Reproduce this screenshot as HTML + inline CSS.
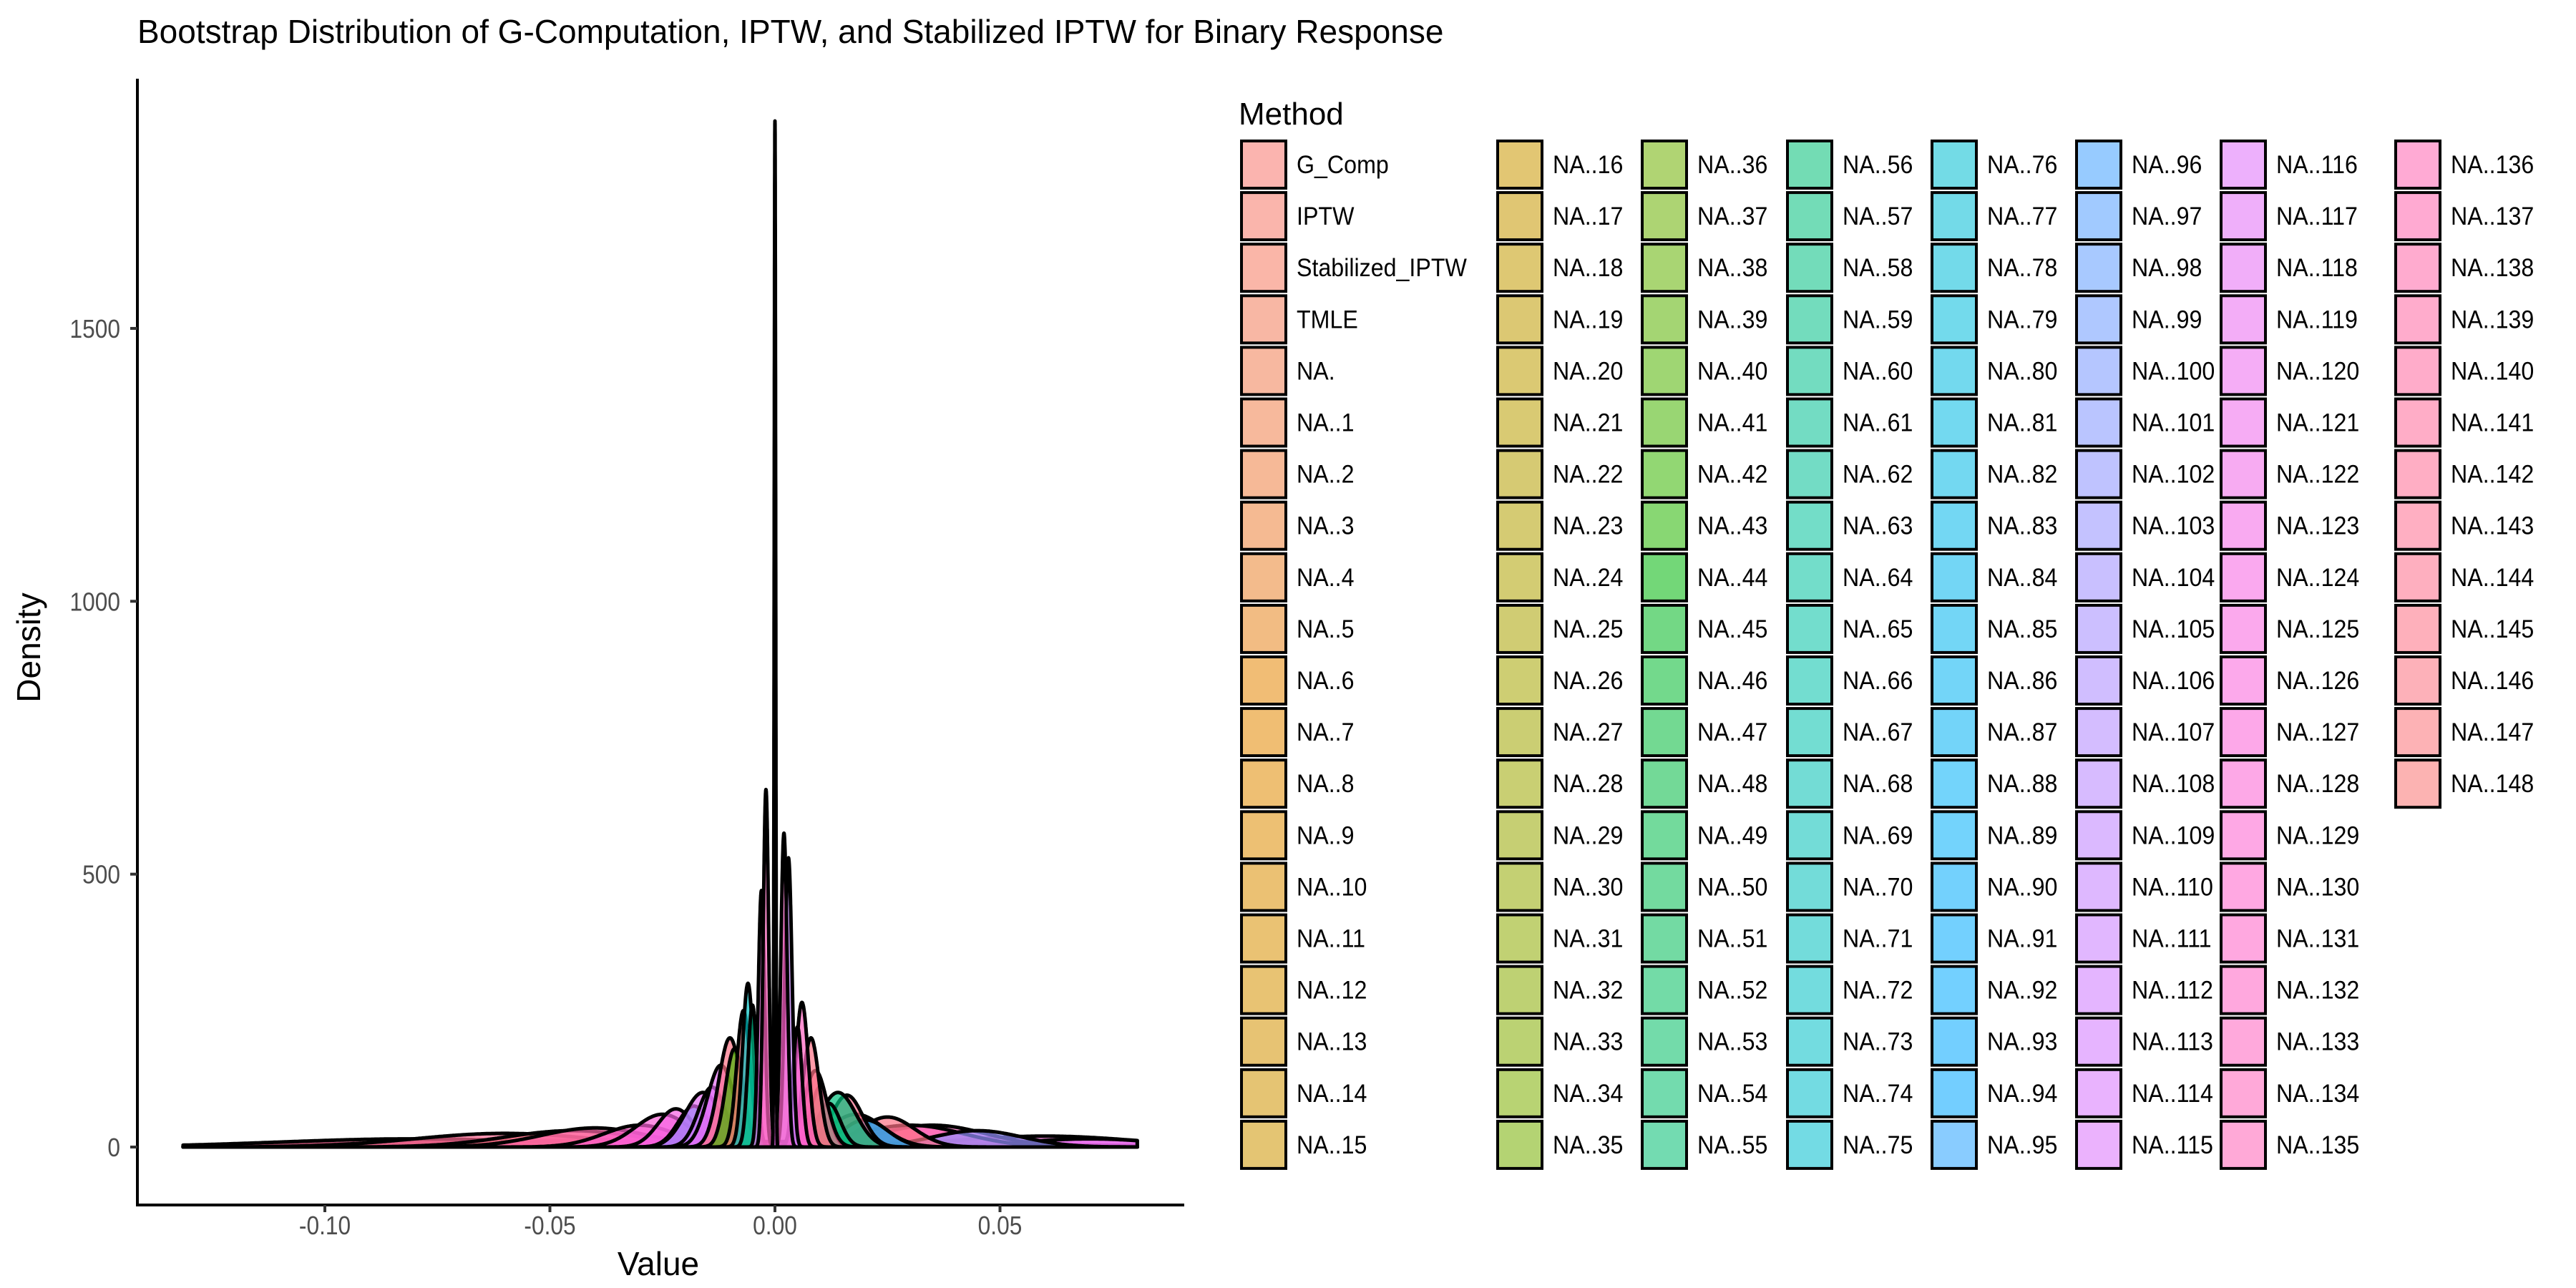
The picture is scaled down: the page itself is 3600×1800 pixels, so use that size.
<!DOCTYPE html>
<html><head><meta charset="utf-8">
<style>
html,body{margin:0;padding:0;background:#fff;}
svg{display:block;font-family:"Liberation Sans",Arial,sans-serif;}
</style></head>
<body>
<svg id="chart" width="3600" height="1800" viewBox="0 0 3600 1800" xmlns="http://www.w3.org/2000/svg">
<text x="192" y="60" font-size="46" fill="#000">Bootstrap Distribution of G-Computation, IPTW, and Stabilized IPTW for Binary Response</text>
<g id="curves"></g>
<line x1="192" y1="110" x2="192" y2="1685" stroke="#000" stroke-width="4"/>
<line x1="190" y1="1684" x2="1655" y2="1684" stroke="#000" stroke-width="4"/>
<g id="yticks"></g>
<g id="xticks"></g>
<text x="920" y="1782" font-size="46" text-anchor="middle">Value</text>
<text transform="translate(56,905) rotate(-90)" font-size="46" text-anchor="middle">Density</text>
<text x="1731" y="174" font-size="44">Method</text>
<g id="legend"></g>
</svg>
<script>
// ---- data ----
const xTicks = [-0.10, -0.05, 0.00, 0.05];
const xTickLabels = ["-0.10", "-0.05", "0.00", "0.05"];
const yTicks = [0, 500, 1000, 1500];
const yTickLabels = ["0", "500", "1000", "1500"];
const curveCenters = [-0.05, 0.0, -0.08, 0.06, 0.07, -0.06, -0.045, 0.035, -0.04, -0.03, 0.03, 0.045, 0.025, -0.025, 0.018, 0.02, -0.022, -0.018, -0.016, 0.016, 0.014, -0.014, -0.012, 0.012, -0.01, 0.01, 0.009, -0.009, 0.008, -0.007, 0.006, -0.006, 0.005, -0.005, 0.003, 0.002, -0.003, -0.002, 0.0];
const curveWidths  = [0.04, 0.05, 0.03, 0.02, 0.015, 0.02, 0.015, 0.012, 0.012, 0.008, 0.012, 0.01, 0.006, 0.006, 0.006, 0.005, 0.004, 0.0035, 0.004, 0.0035, 0.004, 0.003, 0.003, 0.0025, 0.0025, 0.002, 0.0025, 0.002, 0.0018, 0.0015, 0.0014, 0.0012, 0.001, 0.001, 0.0008, 0.0007, 0.0007, 0.0006, 0.00016];
const curvePeaks   = [12, 10, 15, 20, 15, 25, 30, 40, 35, 40, 40, 30, 55, 60, 60, 50, 70, 75, 100, 95, 100, 110, 150, 80, 200, 110, 140, 180, 200, 250, 265, 300, 220, 260, 530, 575, 470, 655, 1880];
const curveHues    = [0.97, 0.99, 0.95, 0.85, 0.80, 0.96, 0.98, 0.90, 0.93, 0.88, 0.92, 0.70, 0.98, 0.86, 0.97, 0.62, 0.84, 0.62, 0.80, 0.97, 0.40, 0.76, 0.80, 0.40, 0.98, 0.36, 0.95, 0.30, 0.98, 0.99, 0.90, 0.50, 0.86, 0.42, 0.75, 0.88, 0.83, 0.90, 0.82];
const xMin = -0.1315, xMax = 0.0805;
const legendLabels = ["G_Comp","IPTW","Stabilized_IPTW","TMLE","NA."];
for (let i = 1; i <= 148; i++) legendLabels.push("NA.." + i);

// ---- scales ----
const NS = "http://www.w3.org/2000/svg";
const xs = v => 1083 + v * 6290;
const ys = d => 1603 - d * 0.7627;

function hcl(h, c, l) {
  const hr = h * Math.PI / 180;
  const U = c * Math.cos(hr), V = c * Math.sin(hr);
  const Y = l > 8 ? Math.pow((l + 16) / 116, 3) : l / 903.3;
  const un = 0.19784, vn = 0.46834;
  const u = U / (13 * l) + un, v = V / (13 * l) + vn;
  const X = Y * 9 * u / (4 * v), Z = Y * (12 - 3 * u - 20 * v) / (4 * v);
  let r = 3.2406 * X - 1.5372 * Y - 0.4986 * Z;
  let g = -0.9689 * X + 1.8758 * Y + 0.0415 * Z;
  let b = 0.0557 * X - 0.2040 * Y + 1.0570 * Z;
  const gm = t => { t = t <= 0.0031308 ? 12.92 * t : 1.055 * Math.pow(t, 1 / 2.4) - 0.055; return Math.round(Math.max(0, Math.min(1, t)) * 255); };
  return [gm(r), gm(g), gm(b)];
}
const n = legendLabels.length;
function colorFor(i) { return hcl(15 + 360 * i / n, 100, 65); }

function el(tag, attrs, parent) {
  const e = document.createElementNS(NS, tag);
  for (const k in attrs) e.setAttribute(k, attrs[k]);
  parent.appendChild(e);
  return e;
}

// ---- curves ----
const cg = document.getElementById("curves");
curveCenters.forEach((c, i) => {
  const w = curveWidths[i], p = curvePeaks[i];
  const pts = [];
  const steps = 900;
  for (let k = 0; k <= steps; k++) {
    const v = xMin + (xMax - xMin) * k / steps;
    const z = (v - c) / w;
    pts.push([xs(v), ys(p * Math.exp(-0.5 * z * z))]);
  }
  const lo = Math.max(xMin, c - 6 * w), hi = Math.min(xMax, c + 6 * w);
  for (let k = 0; k <= 300; k++) {
    const v = lo + (hi - lo) * k / 300;
    const z = (v - c) / w;
    pts.push([xs(v), ys(p * Math.exp(-0.5 * z * z))]);
  }
  pts.sort((a, b) => a[0] - b[0]);
  let d = "M" + xs(xMin).toFixed(1) + "," + ys(0).toFixed(1);
  pts.forEach(q => d += "L" + q[0].toFixed(1) + "," + q[1].toFixed(1));
  d += "L" + xs(xMax).toFixed(1) + "," + ys(0).toFixed(1) + "Z";
  const col = colorFor(Math.floor(curveHues[i] * n) % n);
  const path = el("path", {d: d, fill: "rgb(" + col.join(",") + ")", "fill-opacity": 0.7, stroke: "#000", "stroke-width": 5, "stroke-linejoin": "round"}, cg);
  
  
});

// ---- axes ----
const yg = document.getElementById("yticks");
yTicks.forEach((t, i) => {
  const y = ys(t);
  const tk = el("line", {x1: 182, x2: 192, y1: y, y2: y, stroke: "#333", "stroke-width": 4}, yg);
  
  
  const g = el("g", {transform: "translate(168," + (y + 13) + ") scale(0.88,1)"}, yg);
  const tx = el("text", {x: 0, y: 0, "font-size": 36, fill: "#4d4d4d", "text-anchor": "end"}, g);
  tx.textContent = yTickLabels[i];
  
  
});
const xg = document.getElementById("xticks");
xTicks.forEach((t, i) => {
  const x = xs(t);
  const tk = el("line", {x1: x, x2: x, y1: 1684, y2: 1694, stroke: "#333", "stroke-width": 4}, xg);
  
  
  const g = el("g", {transform: "translate(" + x + ",1725) scale(0.88,1)"}, xg);
  const tx = el("text", {x: 0, y: 0, "font-size": 36, fill: "#4d4d4d", "text-anchor": "middle"}, g);
  tx.textContent = xTickLabels[i];
  
  
});

// ---- legend ----
const lg = document.getElementById("legend");
const colX = [1733, 2091, 2293, 2496, 2698, 2900, 3102, 3346];
legendLabels.forEach((lab, i) => {
  const col = Math.floor(i / 20), row = i % 20;
  const x = colX[col], cy = 230 + row * 72.1;
  const c = colorFor(i);
  const g = el("g", {}, lg);
  
  
  const r = el("rect", {x: x + 2, y: cy - 33, width: 62, height: 66, fill: "rgb(" + c.join(",") + ")", "fill-opacity": 0.55, stroke: "#000", "stroke-width": 4}, g);
  
  
  const tg = el("g", {transform: "translate(" + (x + 79) + "," + (cy + 12) + ") scale(0.92,1)"}, g);
  const t = el("text", {x: 0, y: 0, "font-size": 35, fill: "#000"}, tg);
  t.textContent = lab;
  
  
});
</script>
</body></html>
